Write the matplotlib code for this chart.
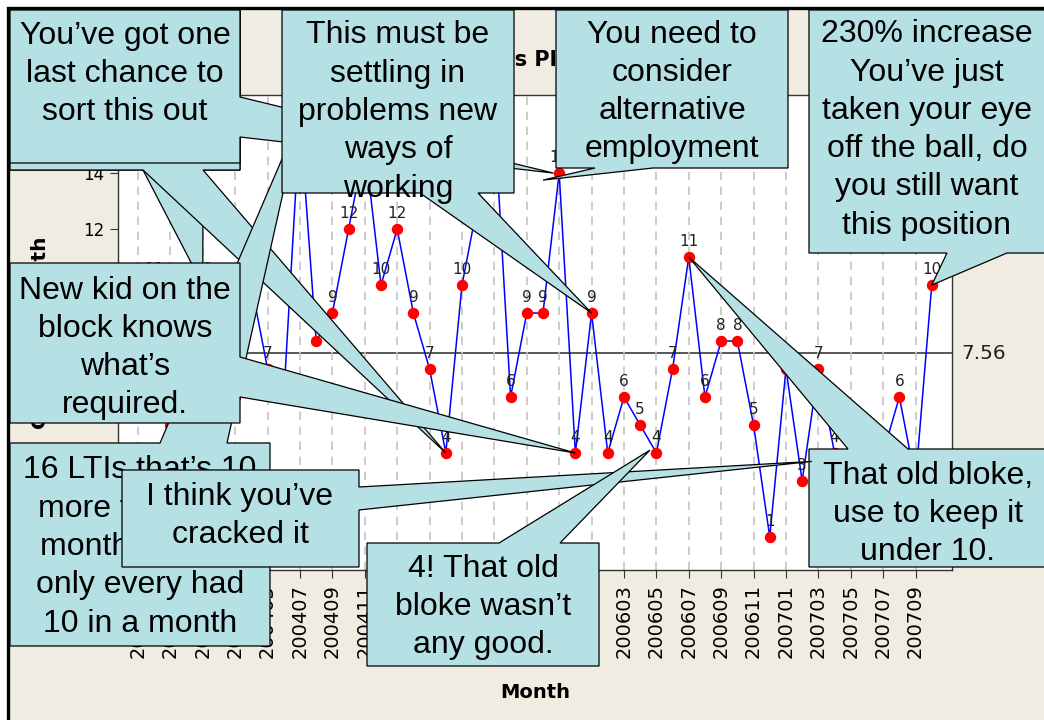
import matplotlib
matplotlib.use("Agg")
import matplotlib.pyplot as plt
from matplotlib.patches import Polygon, Rectangle

W, H = 1044, 720

months = ["200309", "200310", "200311", "200312", "200401", "200402", "200403",
          "200404", "200405", "200406", "200407", "200408", "200409", "200410",
          "200411", "200412", "200501", "200502", "200503", "200504", "200505",
          "200506", "200507", "200508", "200509", "200510", "200511", "200512",
          "200601", "200602", "200603", "200604", "200605", "200606", "200607",
          "200608", "200609", "200610", "200611", "200612", "200701", "200702",
          "200703", "200704", "200705", "200706", "200707", "200708", "200709",
          "200710"]
counts = [7, 10, 5, 8, 10, 7, 6,
          10, 7, 6, 16, 8, 9, 12,
          15, 10, 12, 9, 7, 4, 10,
          13, 16, 6, 9, 9, 14, 4,
          9, 4, 6, 5, 4, 7, 11,
          6, 8, 8, 5, 1, 7, 3,
          7, 4, 2, 3, 4, 6, 3,
          10]
center_value = 7.56
tick_months = months[::2]

title_text = "Time Series Plot of LTIs"
x_label = "Month"
y_label = "Count per month"

# callout texts and what they point at (month, value); None value -> use the count
callouts = [
    ("", ("200401", None)),
    ("", ("200504", None)),
    ("You\u2019ve got one\nlast chance to\nsort this out", ("200511", 14.0)),
    ("16 LTIs that\u2019s 10\nmore than last\nmonth, you\u2019ve\nonly every had\n10 in a month", ("200407", None)),
    ("New kid on the\nblock knows\nwhat\u2019s\nrequired.", ("200512", None)),
    ("This must be\nsettling in\nproblems new\nways of\nworking", ("200601", None)),
    ("You need to\nconsider\nalternative\nemployment", ("200510", 13.75)),
    ("230% increase\nYou\u2019ve just\ntaken your eye\noff the ball, do\nyou still want\nthis position", ("200710", None)),
    ("That old bloke,\nuse to keep it\nunder 10.", ("200607", None)),
    ("I think you\u2019ve\ncracked it", ("200703", 3.7)),
    ("4! That old\nbloke wasn\u2019t\nany good.", ("200605", 4.1)),
]

# layout of each callout in pixels (left, top, right, bottom), pointer edge, pointer base, text centre
layout = [
    ((10, 10, 240, 170), "bottom", (143, 203), None),
    ((10, 10, 240, 170), "bottom", (143, 203), None),
    ((10, 10, 240, 163), "right", (97, 137), (125, 74)),
    ((10, 443, 270, 646), "top", (160, 227), (140, 547)),
    ((10, 263, 240, 423), "right", (357, 397), (125, 348)),
    ((282, 10, 514, 193), "bottom", (420, 478), (398, 112)),
    ((556, 10, 788, 168), "bottom", (595, 653), (672, 92)),
    ((809, 10, 1060, 253), "bottom", (947, 1007), (927, 130)),
    ((809, 449, 1060, 567), "top", (848, 908), (928, 514)),
    ((122, 470, 359, 567), "right", (487, 510), (240, 516)),
    ((367, 543, 599, 666), "top", (499, 560), (483, 607)),
]
tip_shift = {2: (-0.35, 0), 9: (-0.4, 0), 10: (-0.4, 0)}

BEIGE = "#f0ece2"
CALLOUT = "#b5e0e4"

fig = plt.figure(figsize=(W / 100, H / 100), dpi=100)
fig.patch.set_facecolor("white")
fig.add_artist(Rectangle((8 / W, -0.5), 2, 1.5 - 8 / H, transform=fig.transFigure,
                         facecolor=BEIGE, edgecolor="black", lw=2.4, zorder=-5))

ax = fig.add_axes([118 / W, 1 - 570 / H, (952 - 118) / W, (570 - 95) / H])
ax.set_facecolor("white")
idx = list(range(len(months)))
ax.set_xlim(-1.235, 50.25)
ax.set_ylim(-0.18, 16.79)

ax.axhline(center_value, color="#4a4a4a", lw=1.3, zorder=1)
ax.plot(idx, counts, color="#0000ff", lw=1.1, zorder=2)
ax.plot(idx, counts, "o", color="#ff0000", markersize=7.2, zorder=3)
for i, v in zip(idx, counts):
    ax.annotate(str(v), (i, v), xytext=(0, 8), textcoords="offset points",
                ha="center", va="baseline", fontsize=11, color="#222222", zorder=4)

ax.annotate(f"{center_value:.2f}", (1, center_value), xycoords=("axes fraction", "data"),
            xytext=(7, 0), textcoords="offset points", ha="left", va="center",
            fontsize=14.5, color="#222222", annotation_clip=False)

ax.set_xticks(idx[::2])
ax.set_xticklabels(tick_months, rotation=90, fontsize=14)
ax.set_yticks(range(0, 17, 2))
ax.tick_params(axis="y", labelsize=12, length=6, pad=4, color="#333333")
ax.tick_params(axis="x", length=6, pad=4, color="#333333")
ax.grid(axis="x", linestyle=(0, (5, 4)), color="#c4c4c4", lw=1.2)
for s in ax.spines.values():
    s.set_color("#333333")
    s.set_linewidth(1.0)

ax.set_xlabel(x_label, fontsize=14, fontweight="bold", labelpad=8)
ax.xaxis.set_label_coords(0.5, -(683 - 570) / (570 - 95))
ax.set_ylabel(y_label, fontsize=14.5, fontweight="bold")
ax.yaxis.set_label_coords(-(118 - 50) / (952 - 118), 0.5)
fig.text(526 / W, 1 - 60 / H, title_text, ha="center", va="center",
         fontsize=15, fontweight="bold", zorder=1)


def to_fig(p):
    return p[0] / W, 1 - p[1] / H


def tip_px(target, k):
    m, v = target
    i = months.index(m)
    if v is None:
        v = counts[i]
    di, dv = tip_shift.get(k, (0, 0))
    dx, dy = ax.transData.transform((i + di, v + dv))
    return dx, H - dy


for k, ((text, target), (box, edge, base, tc)) in enumerate(zip(callouts, layout)):
    l, t, r, b = box
    a0, a1 = base
    tip = tip_px(target, k)
    pts = [(l, t)]
    if edge == "top":
        pts += [(a0, t), tip, (a1, t)]
    pts.append((r, t))
    if edge == "right":
        pts += [(r, a0), tip, (r, a1)]
    pts.append((r, b))
    if edge == "bottom":
        pts += [(a1, b), tip, (a0, b)]
    pts.append((l, b))
    z = 10 + k
    fig.add_artist(Polygon([to_fig(p) for p in pts], closed=True, transform=fig.transFigure,
                           facecolor=CALLOUT, edgecolor="black", lw=0.9, zorder=z))
    if text:
        fig.text(tc[0] / W, 1 - tc[1] / H, text, ha="center", va="center",
                 multialignment="center", fontsize=23, linespacing=1.36,
                 family=["Liberation Sans", "DejaVu Sans"], color="black", zorder=z + 0.5)

fig.savefig("out.png", dpi=100)
